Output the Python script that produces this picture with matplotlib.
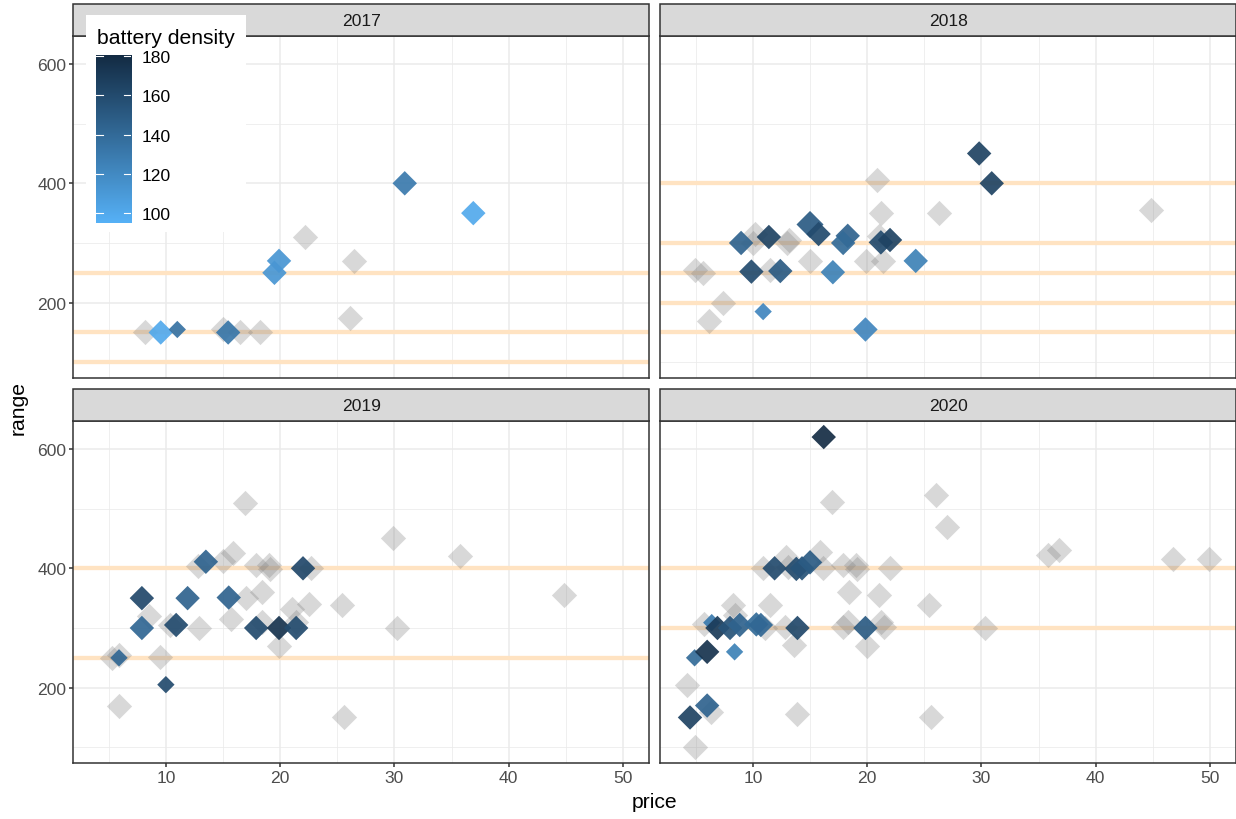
import numpy as np
import matplotlib
matplotlib.use("Agg")
import matplotlib.pyplot as plt
from matplotlib.colors import LinearSegmentedColormap, Normalize
from matplotlib.patches import Rectangle

plt.rcParams['font.family'] = ['Liberation Sans', 'DejaVu Sans']

years = ["2017", "2018", "2019", "2020"]

# models without a battery density value (grey)
grey_price = {
    "2017": [8.2, 15.0, 16.5, 18.2, 22.2, 26.5, 26.1],
    "2018": [4.9, 5.6, 7.35, 6.15, 10.2, 10.0, 11.5, 13.0, 13.2, 15.0, 20.9, 21.2,
             21.0, 19.9, 21.4, 26.3, 44.8],
    "2019": [5.3, 5.9, 5.9, 8.5, 9.5, 10.4, 12.9, 12.8, 15.0, 15.9, 16.9, 15.7, 17.0,
             18.4, 17.9, 19.0, 19.1, 18.4, 19.9, 21.0, 22.5, 22.7, 21.4, 25.4, 29.9,
             30.2, 35.7, 44.8, 25.6],
    "2020": [4.9, 4.2, 6.3, 5.7, 8.3, 8.4, 10.9, 11.1, 11.5, 12.85, 12.9, 13.1, 13.6,
             13.9, 15.9, 16.1, 16.9, 17.9, 18.4, 18.3, 17.9, 19.0, 19.1, 19.95, 21.0,
             21.2, 21.5, 22.0, 25.4, 26.0, 27.0, 30.3, 25.6, 35.8, 36.8, 46.8, 49.9],
}
grey_range = {
    "2017": [150, 155, 150, 150, 310, 270, 175],
    "2018": [255, 250, 200, 170, 315, 300, 255, 300, 305, 270, 405, 350,
             312, 270, 270, 350, 355],
    "2019": [250, 254, 170, 320, 252, 305, 300, 404, 412, 426, 510, 315, 350,
             361, 406, 406, 399, 310, 270, 332, 340, 401, 310, 338, 450,
             300, 420, 355, 150],
    "2020": [100, 205, 160, 307, 339, 321, 400, 300, 338, 302, 419, 402, 271,
             155, 427, 400, 511, 405, 360, 310, 302, 406, 399, 270, 355,
             310, 301, 400, 338, 523, 469, 300, 150, 422, 430, 416, 416],
}

# models with a battery density value
price = {
    "2017": [9.55, 11.0, 15.45, 19.9, 19.5, 30.9, 36.9],
    "2018": [8.97, 11.4, 9.87, 12.4, 10.9, 15.0, 15.75, 18.3, 17.9, 17.0, 19.85,
             21.2, 22.0, 24.25, 29.8, 30.9],
    "2019": [7.9, 7.9, 5.9, 10.0, 10.9, 11.9, 13.5, 15.5, 17.9, 19.9, 21.4, 22.0],
    "2020": [4.5, 6.0, 4.9, 6.0, 6.4, 6.9, 8.0, 8.85, 8.4, 10.3, 10.7, 11.9, 13.9,
             13.8, 14.3, 15.0, 16.2, 19.85],
}
rng = {
    "2017": [150, 155, 150, 270, 250, 400, 350],
    "2018": [300, 310, 252, 253, 185, 331, 315, 312, 300, 251, 155, 301, 305, 270,
             450, 400],
    "2019": [350, 300, 250, 205, 305, 350, 411, 351, 300, 300, 300, 400],
    "2020": [150, 170, 250, 260, 309, 300, 300, 305, 260, 306, 305, 400, 300, 399,
             400, 410, 620, 300],
}
density = {
    "2017": [100, 135, 132, 112, 112, 130, 100],
    "2018": [145, 165, 160, 150, 122, 150, 160, 145, 140, 125, 122, 160, 165, 125,
             165, 165],
    "2019": [162, 142, 142, 160, 160, 145, 145, 145, 160, 175, 160, 162],
    "2020": [165, 145, 140, 175, 130, 170, 155, 145, 125, 140, 142, 160, 162, 160,
             155, 150, 180, 150],
}
size_level = {
    "2017": [2, 1, 2, 2, 2, 2, 2],
    "2018": [2, 2, 2, 2, 1, 3, 2, 2, 2, 2, 2, 2, 2, 2, 2, 2],
    "2019": [2, 2, 1, 1, 2, 2, 2, 2, 2, 2, 2, 2],
    "2020": [2, 2, 1, 2, 1, 2, 2, 2, 1, 2, 2, 2, 2, 2, 2, 2, 2, 2],
}

# range thresholds per year
thresholds = {
    "2017": [100, 150, 250],
    "2018": [150, 200, 250, 300, 400],
    "2019": [250, 400],
    "2020": [300, 400],
}

cmap = LinearSegmentedColormap.from_list("density", ["#56B1F7", "#132B43"])
norm = Normalize(94.7, 180.7)
area = {1: 78, 2: 155, 3: 190}

W, H = 1236, 820
fig = plt.figure(figsize=(W / 100, H / 100), dpi=100)

lefts = [73.3, 660.3]
bottoms = [379, 764]
pw, ph = 576, 341.7
strip_h = 32.6 / ph
small, big = 12.6, 15.2

axes = []
for i, yr in enumerate(years):
    r, c = divmod(i, 2)
    ax = fig.add_axes([lefts[c] / W, 1 - bottoms[r] / H, pw / W, ph / H])
    axes.append(ax)

    ax.set_xlim(1.9, 52.3)
    ax.set_ylim(73.7, 646.4)
    ax.set_xticks([10, 20, 30, 40, 50])
    ax.set_xticks([5, 15, 25, 35, 45], minor=True)
    ax.set_yticks([200, 400, 600])
    ax.set_yticks([100, 300, 500], minor=True)
    ax.grid(which="major", color="#EBEBEB", lw=1.1, zorder=0)
    ax.grid(which="minor", color="#EBEBEB", lw=0.55, zorder=0)
    ax.set_axisbelow(True)

    for s in ax.spines.values():
        s.set_color("#333333")
        s.set_linewidth(1.1)
    ax.tick_params(which="major", length=3, width=1.1, color="#333333",
                   labelcolor="#4D4D4D", labelsize=small, pad=2)
    ax.tick_params(which="minor", length=0)
    if c == 1:
        ax.tick_params(axis="y", which="major", length=0, labelleft=False)
    if r == 0:
        ax.tick_params(axis="x", which="major", length=0, labelbottom=False)

    for t in thresholds[yr]:
        ax.axhline(t, color="#FFE3C2", lw=3.1, zorder=1)

    ax.scatter(grey_price[yr], grey_range[yr], s=165, marker="D",
               color="#7F7F7F", alpha=0.3, lw=0, zorder=2)
    ax.scatter(price[yr], rng[yr], s=[area[k] for k in size_level[yr]], marker="D",
               c=density[yr], cmap=cmap, norm=norm, alpha=0.92, lw=0, zorder=3)

    ax.add_patch(Rectangle((0, 1), 1, strip_h, transform=ax.transAxes, clip_on=False,
                           facecolor="#D9D9D9", edgecolor="#333333", lw=1.1, zorder=4))
    ax.text(0.5, 1 + strip_h / 2, yr, transform=ax.transAxes, ha="center",
            va="center", fontsize=small, color="#1A1A1A", zorder=5)

fig.text(654.5 / W, 1 - 803 / H, "price", ha="center", va="center", fontsize=big)
fig.text(18 / W, 1 - 408 / H, "range", ha="center", va="center", rotation=90,
         fontsize=big)

# colour legend inside the first panel
fig.patches.append(Rectangle((86 / W, 1 - 233 / H), 160 / W, 217 / H,
                             transform=fig.transFigure, facecolor="white",
                             edgecolor="none", zorder=6))
fig.text(97 / W, 1 - 38 / H, "battery density", ha="left", va="center",
         fontsize=big, zorder=7)

cax = fig.add_axes([96 / W, 1 - 224 / H, 35 / W, 168 / H])
cax.set_zorder(8)
vals = np.linspace(norm.vmin, norm.vmax, 256)
cax.imshow(vals[:, None], aspect="auto", origin="lower", cmap=cmap, norm=norm,
           extent=[0, 1, norm.vmin, norm.vmax])
cbar_ticks = [100, 120, 140, 160, 180]
for t in cbar_ticks:
    cax.plot([0, 0.2], [t, t], color="white", lw=0.8)
    cax.plot([0.8, 1], [t, t], color="white", lw=0.8)
cax.set_xlim(0, 1)
cax.set_ylim(norm.vmin, norm.vmax)
cax.set_xticks([])
cax.yaxis.tick_right()
cax.set_yticks(cbar_ticks)
cax.tick_params(axis="y", length=0, pad=8, labelsize=small, labelcolor="black")
for s in cax.spines.values():
    s.set_visible(False)

fig.savefig("out.png", dpi=100)
